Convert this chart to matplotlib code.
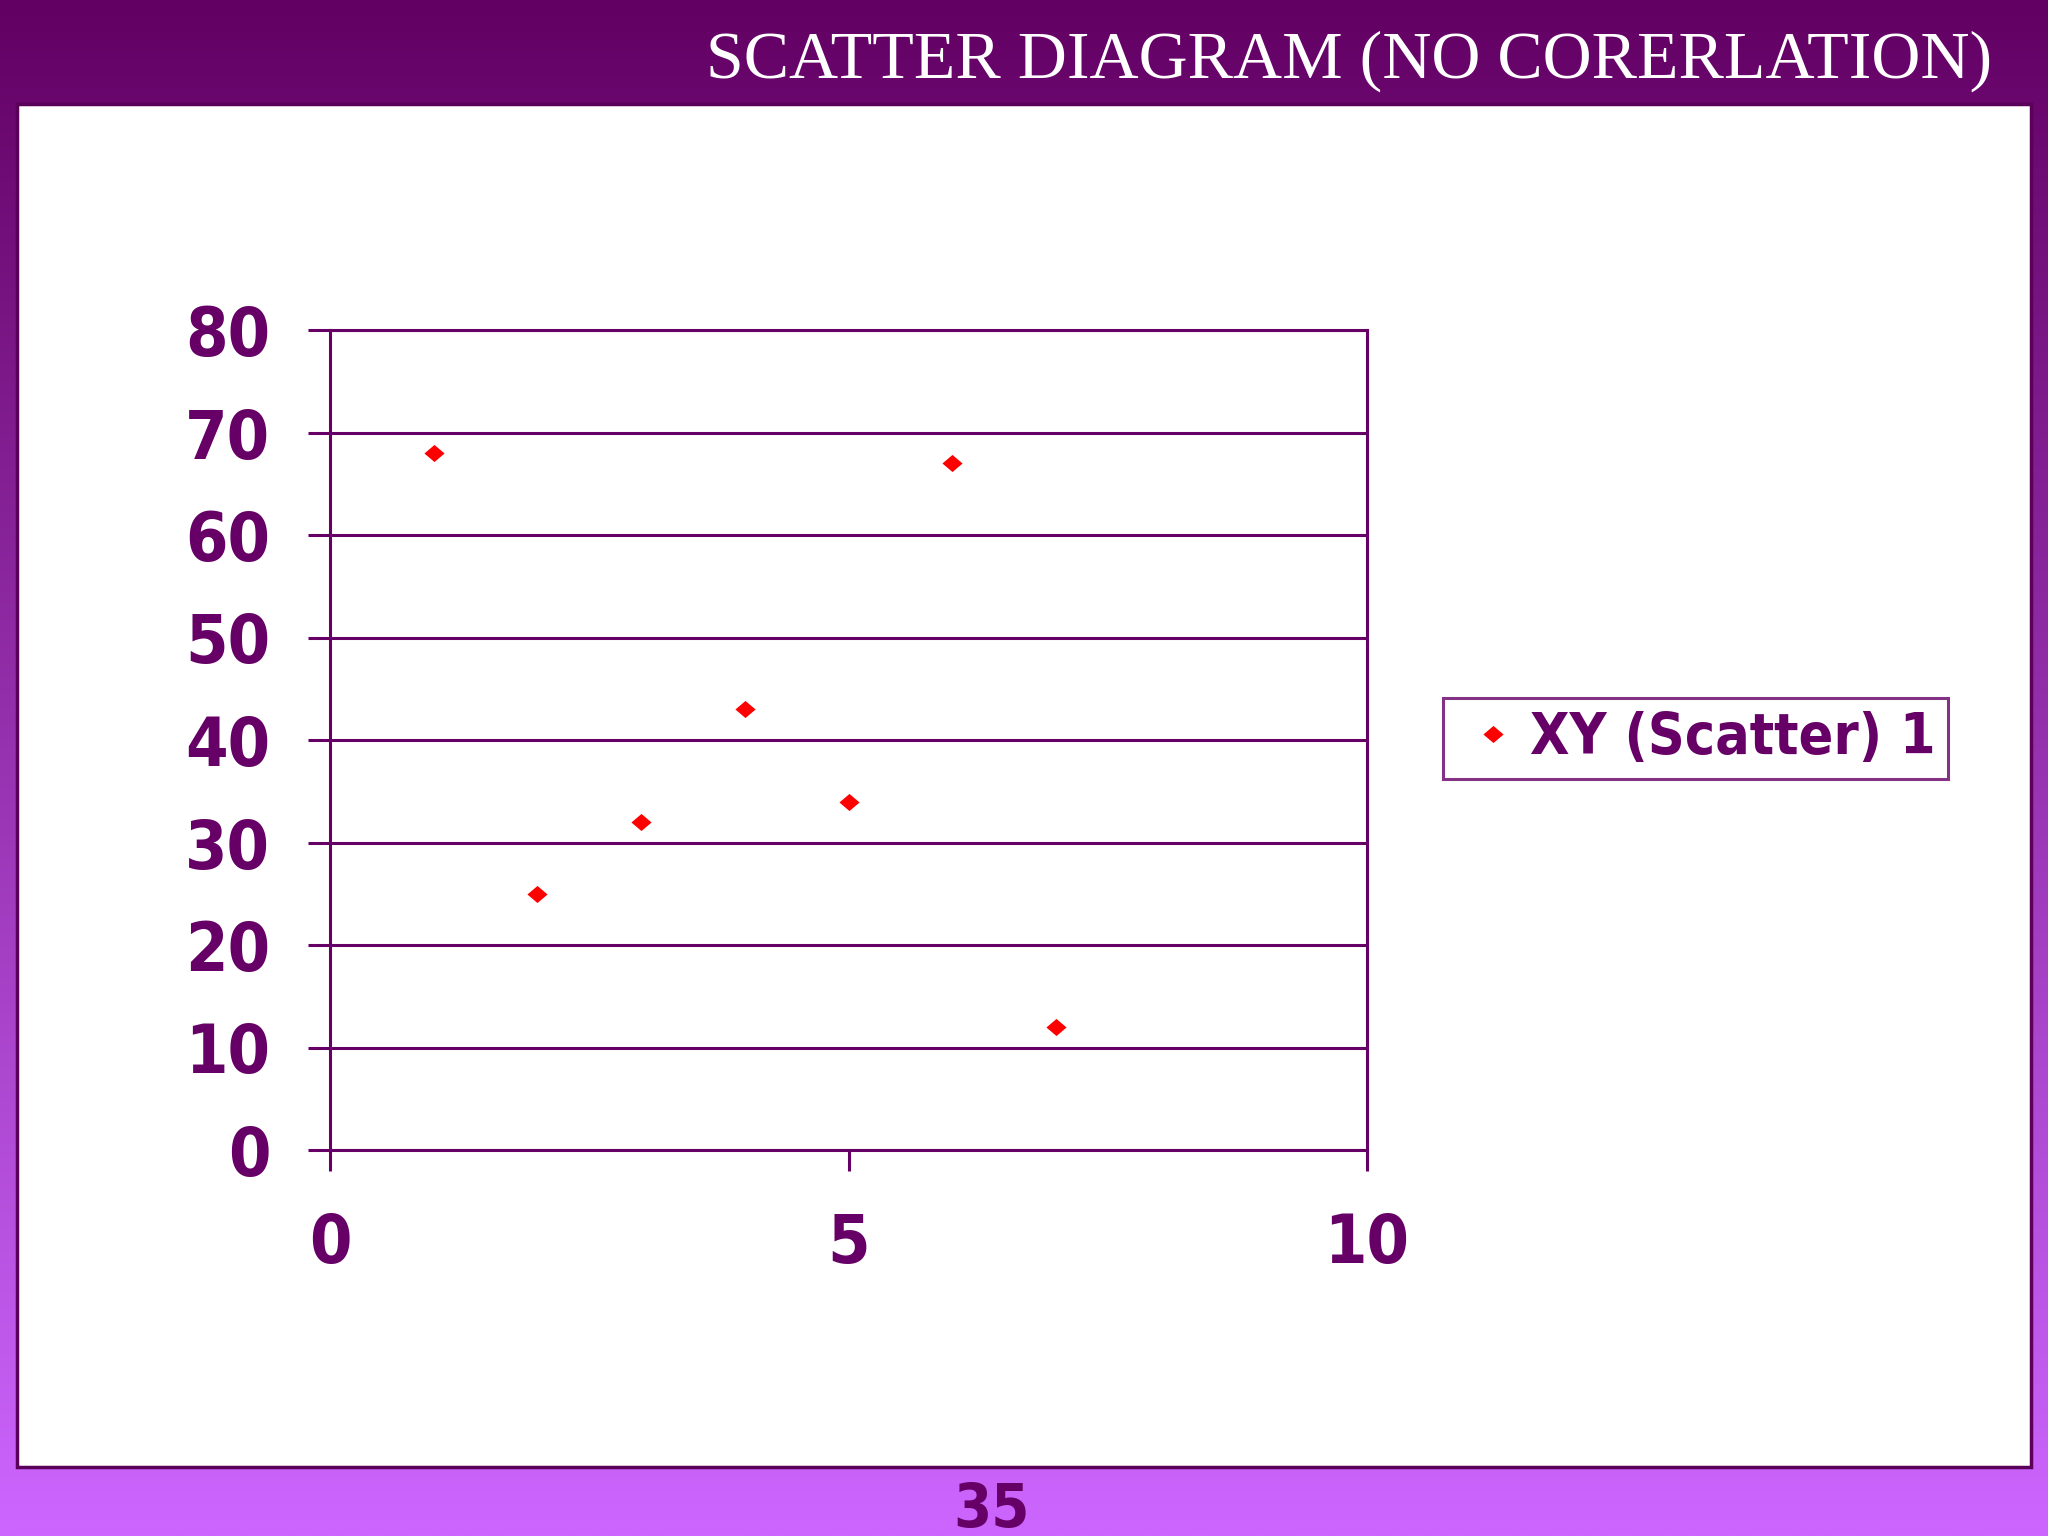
import numpy as np
import matplotlib
matplotlib.use("Agg")
import matplotlib.pyplot as plt
from matplotlib.patches import Rectangle
from matplotlib.lines import Line2D
from matplotlib.path import Path

# ---- data ----
x_values = [1, 2, 3, 4, 5, 6, 7]
y_values = [68, 25, 32, 43, 34, 67, 12]
x_ticks = [0, 5, 10]
y_ticks = [0, 10, 20, 30, 40, 50, 60, 70, 80]
title_text = "SCATTER DIAGRAM (NO CORERLATION)"
series_name = "XY (Scatter) 1"
page_number = "35"

W, H = 2048, 1536
DPI = 100
PURPLE = "#660066"
BOLD_FAM = ["DejaVu Sans"]
STRETCH = "condensed"

fig = plt.figure(figsize=(W / DPI, H / DPI), dpi=DPI)

# background gradient
bg = fig.add_axes([0, 0, 1, 1], zorder=-10)
top = np.array([0x63, 0x00, 0x63]) / 255.0
bot = np.array([0xCC, 0x66, 0xFF]) / 255.0
t = np.linspace(0, 1, 512)[:, None]
grad = (top[None, :] * (1 - t) + bot[None, :] * t)[:, None, :]
bg.imshow(grad, aspect="auto", extent=[0, 1, 0, 1], origin="upper")
bg.set_xlim(0, 1)
bg.set_ylim(0, 1)
bg.axis("off")

def fx(px):
    return px / W

def fy(py):
    return 1 - py / H

# white panel
panel = Rectangle((fx(17), fy(1467)), fx(2031) - fx(17), fy(104) - fy(1467),
                  transform=fig.transFigure, facecolor="white",
                  edgecolor="#5a005a", linewidth=2.5, zorder=-5)
fig.patches.append(panel)

# title
fig.text(fx(1992), fy(78), title_text, ha="right", va="baseline",
         color="white", fontsize=49, family=["Liberation Serif", "DejaVu Serif"])

# page number
fig.text(fx(992), fy(1527), page_number, ha="center", va="baseline",
         color=PURPLE, fontsize=44, weight="bold", family=BOLD_FAM,
         fontstretch=STRETCH)

# plot axes
ax = fig.add_axes([fx(330), fy(1150), fx(1367) - fx(330), fy(330) - fy(1150)])
ax.set_xlim(0, 10)
ax.set_ylim(0, 80)
ax.set_facecolor("none")

diamond = Path([(-1, 0), (0, 0.85), (1, 0), (0, -0.85), (-1, 0)],
               [Path.MOVETO, Path.LINETO, Path.LINETO, Path.LINETO, Path.CLOSEPOLY])
ax.plot(x_values, y_values, linestyle="none", marker=diamond, markersize=14.5,
        color="#FF0000", markeredgewidth=0, clip_on=False, zorder=5,
        label=series_name)

ax.set_xticks(x_ticks)
ax.set_yticks(y_ticks)
ax.yaxis.grid(True, color=PURPLE, linewidth=2.2)
ax.set_axisbelow(True)
for s in ax.spines.values():
    s.set_color(PURPLE)
    s.set_linewidth(2.2)
ax.tick_params(axis="both", color=PURPLE, width=2.2, labelcolor=PURPLE,
               labelsize=49)
ax.tick_params(axis="y", direction="out", length=16, pad=27)
ax.tick_params(axis="x", direction="out", length=15, pad=29)
for lab in ax.get_xticklabels() + ax.get_yticklabels():
    lab.set_family(BOLD_FAM)
    lab.set_weight("bold")
    lab.set_fontstretch(STRETCH)

# legend
handle = Line2D([], [], linestyle="none", marker=diamond, markersize=14.5,
                color="#FF0000", markeredgewidth=0)
leg = fig.legend([handle], [series_name], loc="center left",
                 bbox_to_anchor=(fx(1443), fy(738.5)),
                 bbox_transform=fig.transFigure,
                 frameon=True, fancybox=False, shadow=False,
                 prop={"family": BOLD_FAM, "weight": "bold", "size": 41,
                       "stretch": STRETCH},
                 handlelength=1.3, handletextpad=0.0, borderpad=0.22,
                 borderaxespad=0, numpoints=1)
leg.get_frame().set_edgecolor(PURPLE)
leg.get_frame().set_linewidth(2.2)
leg.get_frame().set_facecolor("white")
for txt in leg.get_texts():
    txt.set_color(PURPLE)

fig.savefig("out.png", dpi=DPI)
